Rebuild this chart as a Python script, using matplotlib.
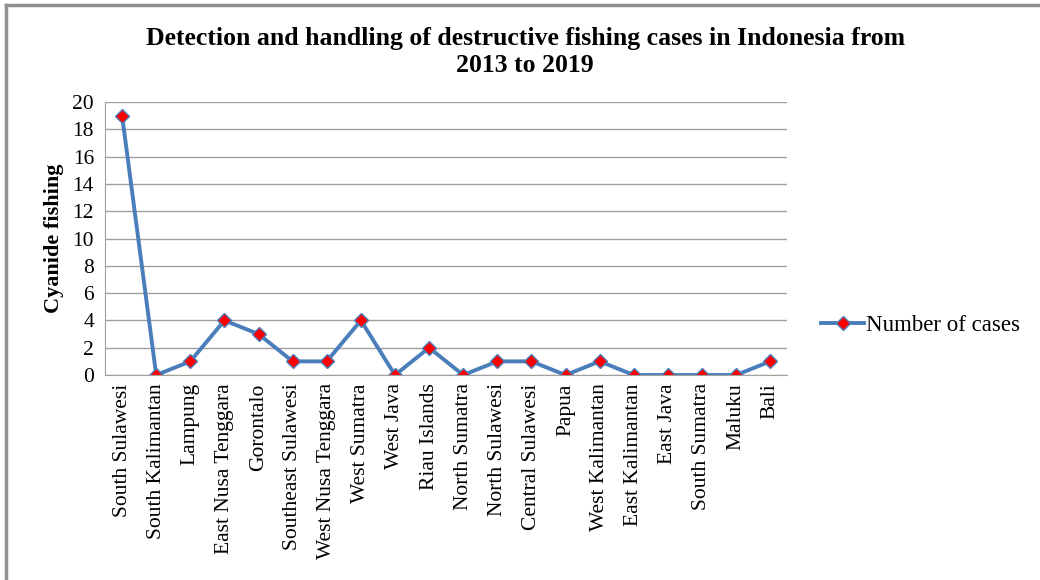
import matplotlib.pyplot as plt
from matplotlib.lines import Line2D

provinces = ['South Sulawesi', 'South Kalimantan', 'Lampung', 'East Nusa Tenggara',
             'Gorontalo', 'Southeast Sulawesi', 'West Nusa Tenggara', 'West Sumatra',
             'West Java', 'Riau Islands', 'North Sumatra', 'North Sulawesi',
             'Central Sulawesi', 'Papua', 'West Kalimantan', 'East Kalimantan',
             'East Java', 'South Sumatra', 'Maluku', 'Bali']
cases = [19, 0, 1, 4, 3, 1, 1, 4, 0, 2, 0, 1, 1, 0, 1, 0, 0, 0, 0, 1]
yticks = list(range(0, 21, 2))

plt.rcParams['font.family'] = ['Liberation Serif', 'DejaVu Serif']

fig = plt.figure(figsize=(10.4, 5.8), dpi=100)
ax = fig.add_axes([0.101, 0.3534, 0.656, 0.4707])

x = list(range(len(cases)))
ax.plot(x, cases, color='#4a7ebb', lw=2.8, marker='D', markersize=7,
        markerfacecolor='#ff0000', markeredgecolor='#4a7ebb', markeredgewidth=1,
        label='Number of cases')

ax.set_xlim(-0.5, len(cases) - 0.5)
ax.set_ylim(0, 20)
ax.set_yticks(yticks)
ax.set_yticklabels([str(v) for v in yticks], fontsize=15.5)
ax.set_xticks(x)
ax.set_xticklabels(provinces, rotation=90, fontsize=15.5)
ax.tick_params(axis='x', length=0, pad=6)
ax.tick_params(axis='y', length=0, pad=8)
ax.grid(axis='y', color='#a0a0a0', lw=1)
ax.set_axisbelow(True)
for side in ['top', 'right']:
    ax.spines[side].set_visible(False)
ax.spines['left'].set_color('#a0a0a0')
ax.spines['bottom'].set_color('#a0a0a0')

ax.set_ylabel('Cyanide fishing', fontsize=16, fontweight='bold', labelpad=6)

fig.text(0.505, 0.934, 'Detection and handling of destructive fishing cases in Indonesia from',
         ha='center', va='center', fontsize=18.5, fontweight='bold')
fig.text(0.505, 0.887, '2013 to 2019', ha='center', va='center', fontsize=18.5, fontweight='bold')

ax.legend(loc='center left', bbox_to_anchor=(1.019, 0.18), frameon=False,
          fontsize=16.5, handlelength=1.9, handletextpad=0.05)

fig.add_artist(Line2D([0.006, 0.006], [0, 0.991], color='#909090', lw=2.5))
fig.add_artist(Line2D([0.006, 1.0], [0.991, 0.991], color='#909090', lw=2.5))

fig.savefig('out.png', dpi=100)
